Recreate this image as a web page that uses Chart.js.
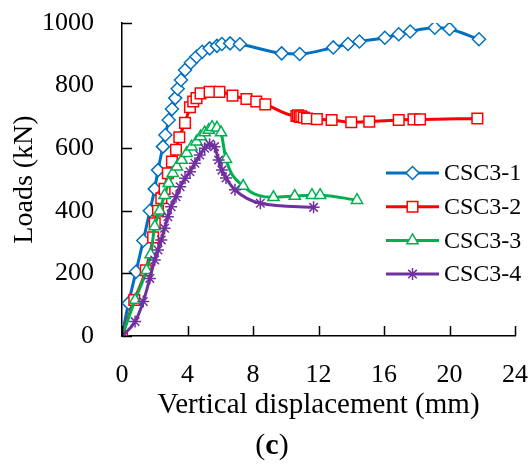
<!DOCTYPE html>
<html>
<head>
<meta charset="utf-8">
<script src="https://cdn.jsdelivr.net/npm/chart.js@4/dist/chart.umd.min.js"></script>
<style>
  html, body { margin: 0; padding: 0; background: #fff; }
  #wrap { width: 531px; height: 468px; }
</style>
</head>
<body>
<div id="wrap"><canvas id="c" width="531" height="468"></canvas></div>
<script>
// ---- data (x = vertical displacement in mm, y = load in kN) ----
const seriesNames = ["CSC3-1", "CSC3-2", "CSC3-3", "CSC3-4"];

const csc31X = [0, 0.4, 0.85, 1.3, 1.7, 2.0, 2.2, 2.5, 2.65, 2.85, 3.05, 3.25, 3.4, 3.6, 3.85, 4.2, 4.55, 4.9, 5.35, 5.8, 6.1, 6.6, 7.2, 9.75, 10.85, 12.9, 13.8, 14.5, 16.05, 16.9, 17.6, 19.1, 20.0, 21.8];
const csc31Y = [0, 105, 205, 305, 400, 470, 530, 605, 642, 690, 725, 760, 790, 818, 850, 873, 892, 908, 919, 927, 933, 935, 932, 903, 901, 922, 933, 941, 953, 964, 973, 985, 981, 948];

const csc32X = [0, 0.75, 1.45, 1.9, 2.0, 2.2, 2.4, 2.6, 2.8, 3.05, 3.3, 3.5, 3.85, 4.15, 4.35, 4.55, 4.8, 5.35, 5.95, 6.75, 7.6, 8.2, 8.75, 10.65, 10.75, 10.85, 10.95, 11.1, 11.3, 11.9, 12.8, 14.0, 15.1, 16.9, 17.8, 18.2, 21.7];
const csc32Y = [0, 115, 210, 315, 360, 400, 440, 470, 520, 557, 595, 635, 681, 731, 749, 760, 775, 780, 780, 768, 757, 749, 740, 703, 705, 700, 702, 698, 695, 693, 690, 683, 685, 690, 692, 692, 695];

const csc33X = [0, 0.8, 1.5, 1.75, 2.0, 2.3, 2.6, 2.85, 3.1, 3.35, 3.65, 3.95, 4.25, 4.55, 4.8, 5.05, 5.3, 5.5, 5.8, 6.05, 6.35, 7.4, 9.25, 10.55, 11.6, 12.1, 14.35];
const csc33Y = [0, 115, 210, 260, 350, 400, 450, 488, 520, 541, 562, 584, 605, 621, 637, 650, 658, 667, 665, 650, 565, 479, 443, 447, 450, 450, 434];

const csc34X = [0, 0.8, 1.3, 1.7, 2.0, 2.2, 2.4, 2.6, 2.8, 3.0, 3.3, 3.55, 3.85, 4.15, 4.45, 4.75, 5.05, 5.35, 5.65, 5.9, 6.1, 6.35, 6.9, 8.45, 11.7];
const csc34Y = [0, 46, 110, 184, 243, 275, 307, 344, 381, 413, 445, 477, 504, 525, 552, 578, 600, 613, 605, 562, 530, 505, 467, 424, 411];

const xTicks = [0, 4, 8, 12, 16, 20, 24];
const yTicks = [0, 200, 400, 600, 800, 1000];
const xTitle = "Vertical displacement (mm)";
const yTitle = "Loads (kN)";
const panelLabel = "c";

// ---- styling ----
const FONT = "'Liberation Serif', 'Times New Roman', serif";
const styles = [
  { color: "#0070C0", point: "rectRot", r: 6.5, order: 4 },
  { color: "#FF0000", point: "rect", r: 7.5, order: 3 },
  { color: "#00B050", point: "triangle", r: 6.5, order: 2 },
  { color: "#7030A0", point: "star", r: 6, order: 1 }
];

function pairs(xs, ys) { return xs.map((x, i) => ({ x: x, y: ys[i] })); }
const allData = [pairs(csc31X, csc31Y), pairs(csc32X, csc32Y), pairs(csc33X, csc33Y), pairs(csc34X, csc34Y)];

const datasets = allData.map((d, i) => ({
  label: seriesNames[i],
  data: d,
  borderColor: styles[i].color,
  backgroundColor: "#ffffff",
  borderWidth: 3,
  pointStyle: styles[i].point,
  pointRadius: styles[i].r,
  pointHoverRadius: styles[i].r,
  pointBorderColor: styles[i].color,
  pointBackgroundColor: "#ffffff",
  pointBorderWidth: 1.5,
  cubicInterpolationMode: "monotone",
  order: styles[i].order,
  fill: false
}));

const TICK_LEN = 10;

const decorPlugin = {
  id: "decor",
  afterDraw(chart) {
    const ctx = chart.ctx;
    const xs = chart.scales.x, ys = chart.scales.y;
    const area = chart.chartArea;
    ctx.save();
    // inward tick marks
    ctx.strokeStyle = "#000";
    ctx.lineWidth = 1.5;
    ctx.beginPath();
    xTicks.forEach(v => {
      const px = Math.round(xs.getPixelForValue(v)) + 0.5;
      ctx.moveTo(px, area.bottom);
      ctx.lineTo(px, area.bottom - TICK_LEN);
    });
    yTicks.forEach(v => {
      const py = Math.round(ys.getPixelForValue(v)) + 0.5;
      ctx.moveTo(area.left, py);
      ctx.lineTo(area.left + TICK_LEN, py);
    });
    ctx.stroke();

    // legend
    const lx0 = 386, lx1 = 439, ly0 = 173, dy = 33.7, tx = 444;
    ctx.textBaseline = "middle";
    ctx.textAlign = "left";
    chart.data.datasets.forEach((ds, i) => {
      const y = ly0 + dy * i;
      ctx.strokeStyle = ds.borderColor;
      ctx.lineWidth = 3;
      ctx.beginPath();
      ctx.moveTo(lx0, y);
      ctx.lineTo(lx1, y);
      ctx.stroke();
      ctx.fillStyle = "#ffffff";
      ctx.strokeStyle = ds.borderColor;
      ctx.lineWidth = 1.5;
      Chart.helpers.drawPoint(ctx, {
        pointStyle: ds.pointStyle,
        radius: ds.pointRadius,
        rotation: 0,
        borderWidth: 1.5
      }, (lx0 + lx1) / 2, y);
      ctx.fillStyle = "#000";
      ctx.font = "24px " + FONT;
      ctx.fillText(ds.label, tx, y + 1);
    });

    // panel label "(c)" with bold c
    const cy = 446;
    const PS = 30;
    ctx.font = PS + "px " + FONT;
    const wOpen = ctx.measureText("(").width;
    const wClose = ctx.measureText(")").width;
    ctx.font = "bold " + PS + "px " + FONT;
    const wC = ctx.measureText(panelLabel).width;
    const total = wOpen + wC + wClose;
    let x = 272 - total / 2;
    ctx.fillStyle = "#000";
    ctx.textAlign = "left";
    ctx.textBaseline = "middle";
    ctx.font = PS + "px " + FONT;
    ctx.fillText("(", x, cy); x += wOpen;
    ctx.font = "bold " + PS + "px " + FONT;
    ctx.fillText(panelLabel, x, cy); x += wC;
    ctx.font = PS + "px " + FONT;
    ctx.fillText(")", x, cy);
    ctx.restore();
  }
};

new Chart(document.getElementById("c"), {
  type: "line",
  data: { datasets: datasets },
  options: {
    responsive: false,
    animation: false,
    events: [],
    layout: { padding: { left: 6, right: 16, top: 23, bottom: 45 } },
    plugins: {
      legend: { display: false },
      tooltip: { enabled: false },
      title: { display: false }
    },
    scales: {
      x: {
        type: "linear",
        min: 0, max: 24,
        afterBuildTicks(scale) { scale.ticks = xTicks.map(v => ({ value: v })); },
        afterFit(scale) { scale.height = 468 - 45 - 336; scale.paddingLeft = 0; scale.paddingRight = 0; },
        grid: { display: false, drawTicks: false },
        border: { display: true, color: "#000", width: 1.5 },
        ticks: { color: "#000", font: { family: FONT, size: 26 }, padding: 24, maxRotation: 0, callback: v => String(v) },
        title: { display: true, text: xTitle, color: "#000", font: { family: FONT, size: 29 }, padding: { top: 0, bottom: 0 } }
      },
      y: {
        type: "linear",
        min: 0, max: 1000,
        afterBuildTicks(scale) { scale.ticks = yTicks.map(v => ({ value: v })); },
        afterFit(scale) { scale.width = 122 - 6; scale.paddingTop = 0; scale.paddingBottom = 0; },
        grid: { display: false, drawTicks: false },
        border: { display: true, color: "#000", width: 1.5 },
        ticks: { color: "#000", font: { family: FONT, size: 26 }, padding: 28, callback: v => String(v) },
        title: { display: true, text: yTitle, color: "#000", font: { family: FONT, size: 28 }, padding: { top: 2, bottom: 0 } }
      }
    }
  },
  plugins: [decorPlugin]
});
</script>
</body>
</html>
